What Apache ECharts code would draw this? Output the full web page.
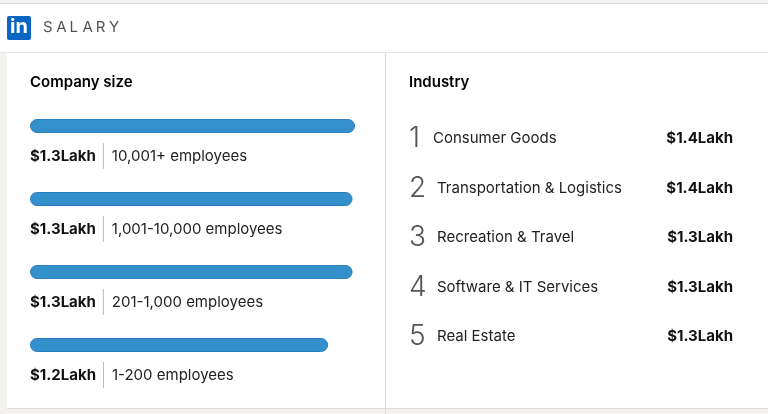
<!DOCTYPE html>
<html><head><meta charset="utf-8">
<script src="https://cdn.jsdelivr.net/npm/echarts@6/dist/echarts.min.js"></script>
<style>html,body{margin:0;padding:0;background:#fff}#c{width:768px;height:414px}</style>
</head><body><div id="c"></div>
<script>
const sizeCategories = ['10,001+ employees','1,001-10,000 employees','201-1,000 employees','1-200 employees'];
const sizeValues = [1.33, 1.32, 1.32, 1.22];
const sizeLabels = ['$1.3Lakh','$1.3Lakh','$1.3Lakh','$1.2Lakh'];
const industryNames = ['Consumer Goods','Transportation & Logistics','Recreation & Travel','Software & IT Services','Real Estate'];
const industryLabels = ['$1.4Lakh','$1.4Lakh','$1.3Lakh','$1.3Lakh','$1.3Lakh'];
const headerTitle = 'SALARY';

const FF = 'Inter, "Noto Sans", sans-serif';
const chart = echarts.init(document.getElementById('c'));
const g = [
  {type:'rect', shape:{x:0,y:0,width:768,height:414}, style:{fill:'#f3f2ef'}, z:-10},
  {type:'rect', shape:{x:0,y:4,width:768,height:48}, style:{fill:'#fff'}, z:-9},
  {type:'line', shape:{x1:0,y1:3.5,x2:768,y2:3.5}, style:{stroke:'#d9d9d9',lineWidth:1}},
  {type:'line', shape:{x1:0,y1:52.5,x2:768,y2:52.5}, style:{stroke:'#e6e6e6',lineWidth:1}},
  {type:'rect', shape:{x:7,y:53,width:761,height:355}, style:{fill:'#fff'}, z:-9},
  {type:'line', shape:{x1:385.5,y1:53,x2:385.5,y2:414}, style:{stroke:'#dcdcdc',lineWidth:1}},
  {type:'line', shape:{x1:7,y1:408.5,x2:768,y2:408.5}, style:{stroke:'#dcdcdc',lineWidth:1}},
  {type:'rect', shape:{x:7,y:16,width:24,height:24,r:2}, style:{fill:'#0a66c2'}},
  {type:'text', x:10, y:17, style:{text:'in', fill:'#fff', font:'bold 20px '+FF}},
  {type:'text', x:30, y:75, style:{text:'Company size', fill:'#000', font:'600 15px '+FF}},
  {type:'text', x:409, y:75, style:{text:'Industry', fill:'#000', font:'600 15px '+FF}}
];
headerTitle.split('').forEach((ch,i)=>g.push({type:'text', x:43+i*13.2, y:20, style:{text:ch, fill:'#555', font:'15px '+FF}}));
industryNames.forEach((n,i)=>{
  const y = 138.5 + i*49.6;
  g.push({type:'text', x:409, y:y, style:{text:String(i+1), fill:'#555', font:'300 28px '+FF, verticalAlign:'middle'}});
  g.push({type:'text', x:433 + (i?4:0), y:y, style:{text:n, fill:'#222', font:'15px '+FF, verticalAlign:'middle'}});
  g.push({type:'text', x:733, y:y, style:{text:industryLabels[i], fill:'#111', font:'bold 15px '+FF, verticalAlign:'middle', align:'right'}});
});
chart.setOption({
  animation:false,
  grid:{left:30, top:89.5, width:325, height:292},
  xAxis:{type:'value', min:0, max:1.33, show:false},
  yAxis:{type:'category', data:sizeCategories, inverse:true, show:false},
  graphic:g,
  series:[{type:'bar', data:sizeValues, barWidth:14, itemStyle:{color:'#3390cb', borderColor:'#2b7fc0', borderWidth:1, borderRadius:7},
    label:{show:true, position:[0,'100%'], offset:[0,10], fontFamily:FF,
      formatter:p=>'{v|'+sizeLabels[p.dataIndex]+'}{s|}{c|'+sizeCategories[p.dataIndex]+'}',
      rich:{v:{fontWeight:'bold', fontSize:15, color:'#111', fontFamily:FF, padding:[0,7,0,0]},
            s:{width:1, height:26, backgroundColor:'#bbb'},
            c:{fontSize:15, color:'#222', fontFamily:FF, padding:[0,0,0,8]}}}}]
});
</script></body></html>
